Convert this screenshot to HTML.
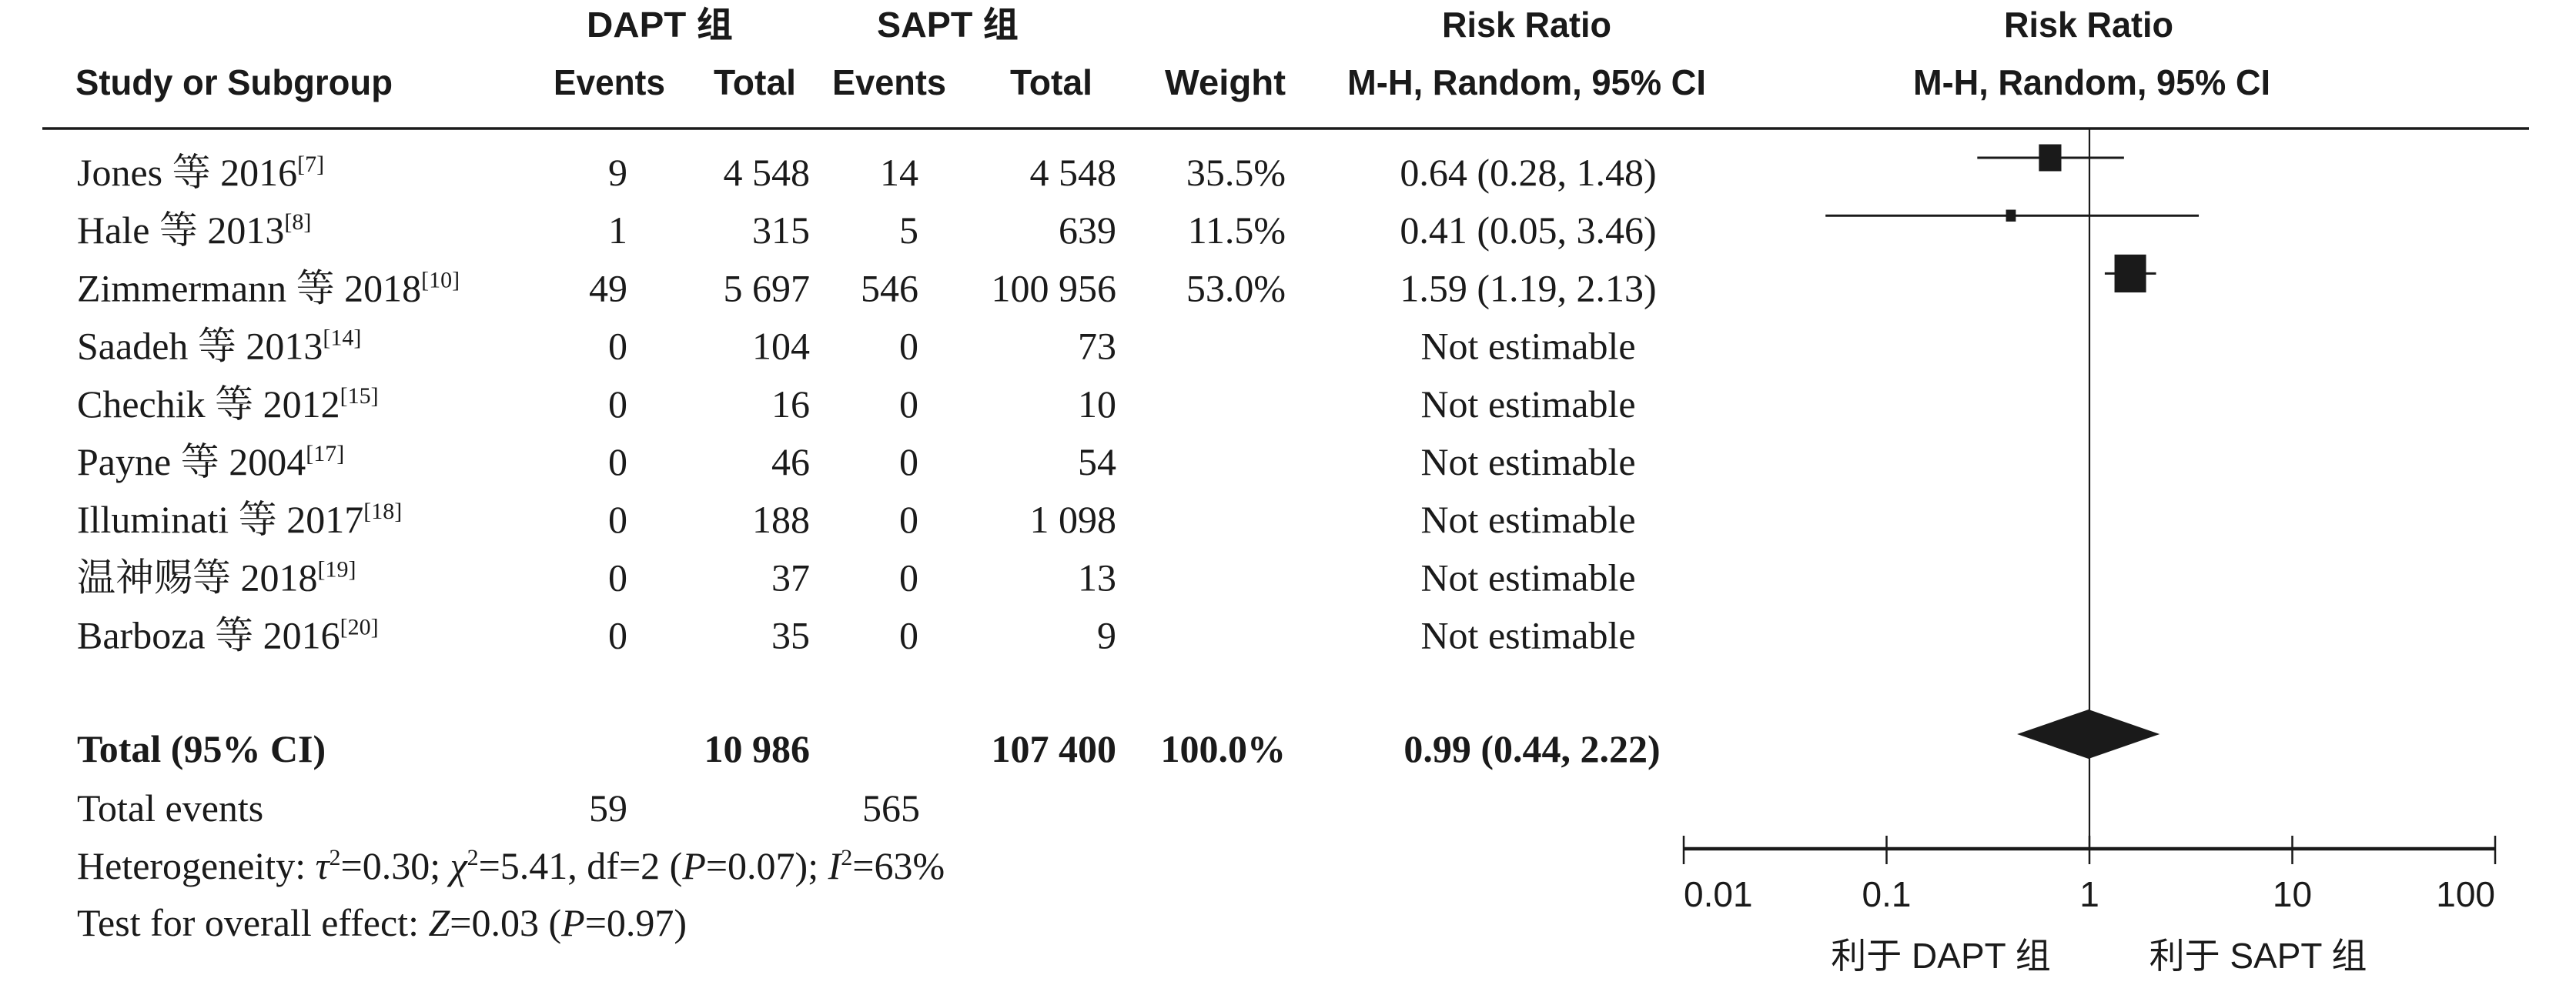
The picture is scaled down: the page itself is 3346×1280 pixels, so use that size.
<!DOCTYPE html>
<html><head><meta charset="utf-8"><style>
html,body{margin:0;padding:0;background:#fff;}
svg{display:block;}
.h{font-family:"Liberation Sans","Noto Sans CJK SC",sans-serif;font-weight:bold;font-size:46px;fill:#1a1a1a;}
.b{font-family:"Liberation Serif","Noto Serif CJK SC",serif;font-size:50px;fill:#1a1a1a;}
.bb{font-weight:bold;}
.t{font-family:"Liberation Sans","Noto Sans CJK SC",sans-serif;font-size:46px;fill:#1a1a1a;}
</style></head><body>
<svg id="chart" width="3346" height="1280" viewBox="0 0 3346 1280" xmlns="http://www.w3.org/2000/svg">
<g>
<text class="h" x="762" y="48" textLength="190" lengthAdjust="spacingAndGlyphs">DAPT 组</text>
<text class="h" x="1139" y="48" textLength="184" lengthAdjust="spacingAndGlyphs">SAPT 组</text>
<text class="h" x="1873" y="48" textLength="220" lengthAdjust="spacingAndGlyphs">Risk Ratio</text>
<text class="h" x="2603" y="48" textLength="220" lengthAdjust="spacingAndGlyphs">Risk Ratio</text>
<text class="h" x="98" y="123" textLength="412" lengthAdjust="spacingAndGlyphs">Study or Subgroup</text>
<text class="h" x="719" y="123" textLength="145" lengthAdjust="spacingAndGlyphs">Events</text>
<text class="h" x="927" y="123" textLength="107" lengthAdjust="spacingAndGlyphs">Total</text>
<text class="h" x="1081" y="123" textLength="148" lengthAdjust="spacingAndGlyphs">Events</text>
<text class="h" x="1312" y="123" textLength="107" lengthAdjust="spacingAndGlyphs">Total</text>
<text class="h" x="1513" y="123" textLength="157" lengthAdjust="spacingAndGlyphs">Weight</text>
<text class="h" x="1750" y="123" textLength="466" lengthAdjust="spacingAndGlyphs">M-H, Random, 95% CI</text>
<text class="h" x="2485" y="123" textLength="464" lengthAdjust="spacingAndGlyphs">M-H, Random, 95% CI</text>
</g>
<line x1="55" y1="167" x2="3285" y2="167" stroke="#1a1a1a" stroke-width="3.5"/>
<g id="rows"></g>
<g id="plot"></g>
<g>
<text class="b" x="100" y="1067">Total events</text>
<text class="b" x="815" y="1067" text-anchor="end">59</text>
<text class="b" x="1195" y="1067" text-anchor="end">565</text>
<text class="b" x="100" y="1142">Heterogeneity: <tspan font-style="italic">τ</tspan><tspan font-size="30" dy="-18">2</tspan><tspan dy="18">=0.30; </tspan><tspan font-style="italic">χ</tspan><tspan font-size="30" dy="-18">2</tspan><tspan dy="18">=5.41, df=2 (</tspan><tspan font-style="italic">P</tspan>=0.07); <tspan font-style="italic">I</tspan><tspan font-size="30" dy="-18">2</tspan><tspan dy="18">=63%</tspan></text>
<text class="b" x="100" y="1216">Test for overall effect: <tspan font-style="italic">Z</tspan>=0.03 (<tspan font-style="italic">P</tspan>=0.97)</text>
</g>
</svg>
<script>
const studies=["Jones 等 2016","Hale 等 2013","Zimmermann 等 2018","Saadeh 等 2013","Chechik 等 2012","Payne 等 2004","Illuminati 等 2017","温神赐等 2018","Barboza 等 2016"];
const refs=["[7]","[8]","[10]","[14]","[15]","[17]","[18]","[19]","[20]"];
const daptEvents=["9","1","49","0","0","0","0","0","0"];
const daptTotal=["4 548","315","5 697","104","16","46","188","37","35"];
const saptEvents=["14","5","546","0","0","0","0","0","0"];
const saptTotal=["4 548","639","100 956","73","10","54","1 098","13","9"];
const weights=[35.5,11.5,53.0,null,null,null,null,null,null];
const rr=[0.64,0.41,1.59,null,null,null,null,null,null];
const ciLow=[0.28,0.05,1.19,null,null,null,null,null,null];
const ciHigh=[1.48,3.46,2.13,null,null,null,null,null,null];
const totalValues=["10 986","107 400","100.0%"];
const pooled=[0.99,0.44,2.22];
const ticks=[0.01,0.1,1,10,100];
const tickLabels=["0.01","0.1","1","10","100"];

const NS="http://www.w3.org/2000/svg";
const rowsG=document.getElementById('rows'), plotG=document.getElementById('plot');
const xS=v=>2714+263.5*Math.log10(v);
const rowY=i=>224+75.2*i;
function mk(tag,attrs,parent){const e=document.createElementNS(NS,tag);for(const k in attrs)e.setAttribute(k,attrs[k]);parent.appendChild(e);return e;}
function txt(parent,x,y,s,anchor,cls){const t=mk('text',{x:x,y:y,'text-anchor':anchor||'start','class':cls||'b'},parent);t.textContent=s;return t;}
const fmt=v=>v.toFixed(2);

studies.forEach((s,i)=>{
  const y=rowY(i)+17;
  const g=mk('g',{},rowsG);
  
  
  const n=txt(g,100,y,s);
  
  
  const sp=mk('tspan',{'font-size':30,dy:-18},n);sp.textContent=refs[i];
  const c1=txt(g,815,y,daptEvents[i],'end');
  
  
  const c2=txt(g,1052,y,daptTotal[i],'end');
  
  
  const c3=txt(g,1193,y,saptEvents[i],'end');
  
  
  const c4=txt(g,1450,y,saptTotal[i],'end');
  
  
  if(weights[i]!==null){
    const w=txt(g,1670,y,weights[i].toFixed(1)+'%','end');
    
    
  }
  const est=rr[i]!==null?fmt(rr[i])+' ('+fmt(ciLow[i])+', '+fmt(ciHigh[i])+')':'Not estimable';
  const e=txt(g,1985,y,est,'middle');
  
  
  if(rr[i]!==null){
    const cy=rowY(i)-19;
    const l=mk('line',{x1:xS(ciLow[i]),x2:xS(ciHigh[i]),y1:cy,y2:cy,stroke:'#1a1a1a','stroke-width':3},plotG);
    
    
    const w=0.68*weights[i]+5, h=w*1.2;
    const r=mk('rect',{x:xS(rr[i])-w/2,y:cy-h/2,width:w,height:h,fill:'#1a1a1a'},plotG);
    
    
  }
});

// total row
const ty=rowY(10.0)+(973-rowY(10))+17;
const tg=mk('g',{},rowsG);


const tl=txt(tg,100,ty,'Total (95% CI)','start','b bb');


const tv1=txt(tg,1052,ty,totalValues[0],'end','b bb');


const tv2=txt(tg,1450,ty,totalValues[1],'end','b bb');


const tv3=txt(tg,1670,ty,totalValues[2],'end','b bb');


const tv4=txt(tg,1990,ty,fmt(pooled[0])+' ('+fmt(pooled[1])+', '+fmt(pooled[2])+')','middle','b bb');



// vertical null line
const vl=mk('line',{x1:xS(1),x2:xS(1),y1:167,y2:1103,stroke:'#1a1a1a','stroke-width':2.2},plotG);



// diamond
const dy=954;
const d=mk('polygon',{points:`${xS(pooled[1])},${dy} ${xS(pooled[0])},${dy-32} ${xS(pooled[2])},${dy} ${xS(pooled[0])},${dy+32}`,fill:'#1a1a1a'},plotG);



// axis
const ax=mk('line',{x1:xS(ticks[0]),x2:xS(ticks[ticks.length-1]),y1:1103,y2:1103,stroke:'#1a1a1a','stroke-width':4.5},plotG);


ticks.forEach((t,i)=>{
  const tk=mk('line',{x1:xS(t),x2:xS(t),y1:1086,y2:1123,stroke:'#1a1a1a','stroke-width':2.5},plotG);
  
  
  const anchor=i===0?'start':(i===ticks.length-1?'end':'middle');
  const lb=txt(plotG,xS(t),1178,tickLabels[i],anchor,'t');
  
  
});
const f1=txt(plotG,2521,1258,'利于 DAPT 组','middle','t');


const f2=txt(plotG,2933,1258,'利于 SAPT 组','middle','t');


</script>
</body></html>
